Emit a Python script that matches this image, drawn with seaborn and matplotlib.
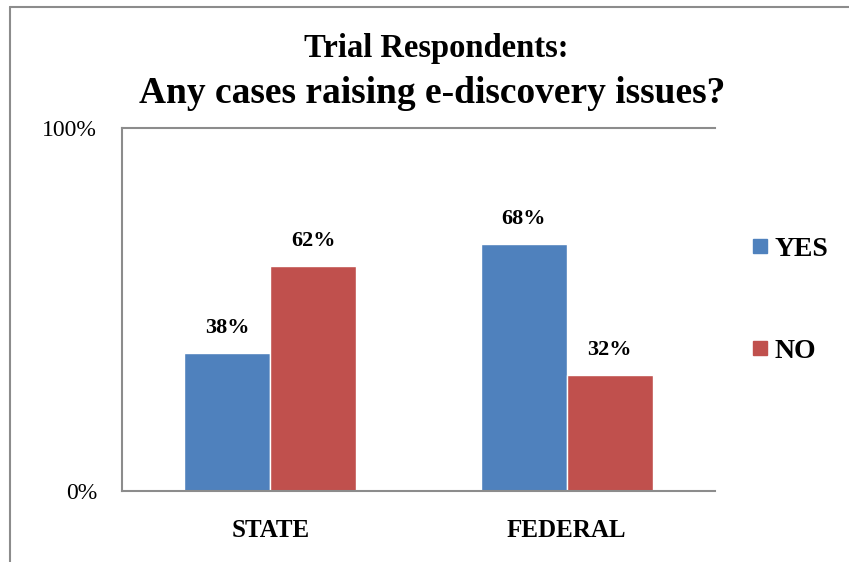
import matplotlib
matplotlib.use("Agg")
import matplotlib.pyplot as plt
import seaborn as sns
import pandas as pd
from matplotlib.lines import Line2D

# chart data
courts = ["STATE", "FEDERAL"]
answers = ["YES", "NO"]
yes_pct = [38, 68]
no_pct = [62, 32]
colors = ["#4F81BD", "#C0504D"]

df = pd.DataFrame({
    "court": courts * 2,
    "answer": ["YES"] * len(courts) + ["NO"] * len(courts),
    "pct": yes_pct + no_pct,
})

sns.set_style("white")
plt.rcParams["font.family"] = ["Liberation Serif", "DejaVu Serif"]
plt.rcParams["text.color"] = "black"
plt.rcParams["xtick.color"] = "black"
plt.rcParams["ytick.color"] = "black"

fig = plt.figure(figsize=(8.49, 5.62), dpi=100)
ax = fig.add_axes([122 / 849, 1 - 491 / 562, 593 / 849, 363 / 562])

sns.barplot(data=df, x="court", y="pct", hue="answer", hue_order=answers,
            palette=colors, width=0.58, saturation=1, ax=ax, legend=False)

# value labels above bars
for cont in ax.containers:
    ax.bar_label(cont, labels=[f"{v:.0f}%" for v in cont.datavalues],
                 padding=11, fontsize=16, fontweight="bold", color="black")

ax.set_ylim(0, 100)
ax.set_xlim(-0.5, 1.5)
ax.set_yticks([0, 100])
ax.set_yticklabels(["0%", "100%"], fontsize=17)
ax.tick_params(axis="y", length=0, pad=18)
ax.tick_params(axis="x", length=0, pad=20)
for lbl in ax.get_xticklabels():
    lbl.set_fontsize(18)
    lbl.set_fontweight("bold")
ax.set_xlabel("")
ax.set_ylabel("")

for side in ["left", "top", "bottom"]:
    ax.spines[side].set_color("#8C8C8C")
    ax.spines[side].set_linewidth(1.5)
ax.spines["right"].set_visible(False)

# legend on the right
handles = [Line2D([], [], marker="s", linestyle="", markersize=10,
                  color=c) for c in colors]
fig.legend(handles, answers, loc="center left", bbox_to_anchor=(752 / 849, 1 - 300 / 562),
           frameon=False, borderpad=0, borderaxespad=0, handlelength=0.6,
           handletextpad=0.2, labelspacing=2.75, labelcolor="black",
           prop={"family": "Liberation Serif", "weight": "bold", "size": 20})

# title
fig.text(436 / 849, 1 - 57 / 562, "Trial Respondents:", ha="center", va="baseline",
         fontsize=23.5, fontweight="bold", color="black")
fig.text(432 / 849, 1 - 103 / 562, "Any cases raising e-discovery issues?",
         ha="center", va="baseline", fontsize=27, fontweight="bold", color="black")

# outer frame lines (top and left visible)
fig.add_artist(Line2D([10 / 849, 1], [1 - 7 / 562, 1 - 7 / 562],
                      transform=fig.transFigure, color="#8C8C8C", lw=1.5))
fig.add_artist(Line2D([10 / 849, 10 / 849], [0, 1 - 7 / 562],
                      transform=fig.transFigure, color="#8C8C8C", lw=1.5))

fig.savefig("out.png", dpi=100)
